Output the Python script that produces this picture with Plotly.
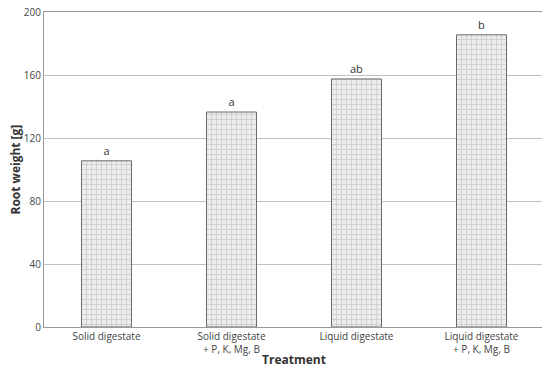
import plotly.graph_objects as go

categories = ["Solid digestate", "Solid digestate<br>+ P, K, Mg, B", "Liquid digestate", "Liquid digestate<br>+ P, K, Mg, B"]
values = [105.5, 136.5, 157.5, 185.5]
letters = ["a", "a", "ab", "b"]
y_ticks = [0, 40, 80, 120, 160, 200]

fig = go.Figure()
fig.add_trace(go.Bar(
    x=categories, y=values, width=0.4,
    marker=dict(color="#e6e6e6",
                line=dict(color="#6b6b6b", width=1),
                pattern=dict(shape="+", fgcolor="#b5b5b5", bgcolor="#ececec", size=5, solidity=0.35)),
    text=letters, textposition="outside", cliponaxis=False,
    textfont=dict(size=11, color="#333333", family="Open Sans"),
    showlegend=False,
))

fig.update_layout(
    width=542, height=364,
    margin=dict(l=36, r=6, t=4, b=45),
    plot_bgcolor="white", paper_bgcolor="white",
    font=dict(family="Open Sans", size=10, color="#444444"),
    bargap=0.6,
    xaxis=dict(
        automargin=False,
        showline=True, linecolor="#999999", linewidth=1, mirror=True,
        ticks="", tickfont=dict(size=10, color="#444444"),
    ),
    yaxis=dict(
        automargin=False,
        range=[0, 200], tickvals=y_ticks,
        ticklabeloverflow="allow",
        showgrid=True, gridcolor="#c0c0c0", gridwidth=1,
        showline=True, linecolor="#999999", linewidth=1, mirror=True,
        ticks="", tickfont=dict(size=10, color="#444444"),
        zeroline=False,
    ),
    annotations=[
        dict(text="<b>Treatment</b>", xref="paper", yref="paper", x=0.5, y=0,
             yshift=-32, showarrow=False, font=dict(size=12, color="#333333"), yanchor="middle"),
        dict(text="<b>Root weight [g]</b>", xref="paper", yref="paper", x=0, y=0.5,
             xshift=-29, showarrow=False, textangle=-90, font=dict(size=12, color="#333333"), xanchor="center"),
    ],
)

fig.write_html("out.html")
